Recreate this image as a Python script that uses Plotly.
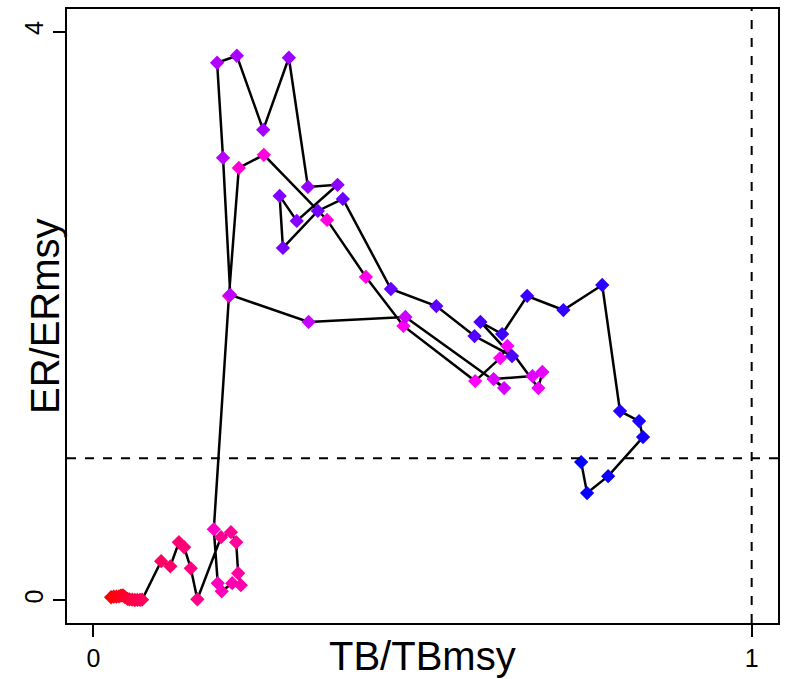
import plotly.graph_objects as go
import colorsys

# TB/TBmsy (x) and ER/ERmsy (y), in time order
tb = [0.027, 0.031, 0.035, 0.039, 0.042, 0.045, 0.048, 0.052, 0.055, 0.059,
      0.063, 0.067, 0.071, 0.074,
      0.103, 0.117, 0.130, 0.138, 0.148, 0.158,
      0.194, 0.209, 0.217, 0.220, 0.224, 0.211, 0.195, 0.189, 0.183,
      0.206, 0.221, 0.259, 0.355, 0.414, 0.471, 0.580, 0.618, 0.629,
      0.676, 0.682, 0.667, 0.608, 0.624, 0.474, 0.327, 0.208,
      0.197, 0.188, 0.218, 0.258, 0.297, 0.326, 0.371, 0.309, 0.283,
      0.288, 0.341, 0.379, 0.452, 0.521, 0.579, 0.636, 0.588, 0.621,
      0.659, 0.714, 0.773, 0.800, 0.829, 0.835, 0.782, 0.750, 0.741]
er = [0.021, 0.025, 0.026, 0.028, 0.033, 0.035, 0.022, 0.010, 0.006, 0.004,
      0.002, 0.003, 0.003, 0.004,
      0.275, 0.239, 0.408, 0.373, 0.225, 0.007,
      0.444, 0.479, 0.408, 0.190, 0.106, 0.120, 0.063, 0.120, 0.500,
      2.141, 3.042, 3.134, 2.676, 2.275, 1.930, 1.542, 1.704, 1.789,
      1.493, 1.606, 1.577, 1.556, 1.493, 1.993, 1.958, 2.148,
      3.113, 3.782, 3.831, 3.310, 3.817, 2.908, 2.923, 2.669, 2.845,
      2.479, 2.739, 2.824, 2.190, 2.070, 1.859, 1.718, 1.958, 1.873,
      2.141, 2.042, 2.218, 1.331, 1.261, 1.148, 0.873, 0.754, 0.972]

x_ticks = [0, 1]
y_ticks = [0, 4]
x_label = "TB/TBmsy"
y_label = "ER/ERmsy"

# colour ramp red -> magenta -> blue along the time series
n = len(tb)
colors = []
for i in range(n):
    h = (360 - 120 * i / (n - 1)) / 360.0
    r, g, b = colorsys.hsv_to_rgb(h % 1.0, 1, 1)
    colors.append(f"rgb({int(round(r*255))},{int(round(g*255))},{int(round(b*255))})")

FONT = "Liberation Sans, Arial, sans-serif"

fig = go.Figure()
fig.add_trace(go.Scatter(x=tb, y=er, mode="lines",
                         line=dict(color="black", width=2.5),
                         hoverinfo="skip", showlegend=False))
fig.add_trace(go.Scatter(x=tb, y=er, mode="markers",
                         marker=dict(symbol="diamond", size=11, color=colors,
                                     line=dict(width=0)),
                         showlegend=False))

fig.add_shape(type="line", xref="paper", yref="y", x0=0, x1=1, y0=1, y1=1,
              line=dict(color="black", width=2, dash="dash"))
fig.add_shape(type="line", xref="x", yref="paper", x0=1, x1=1, y0=0, y1=1,
              line=dict(color="black", width=2, dash="dash"))

axis_common = dict(showline=True, linecolor="black", linewidth=2, mirror=True,
                   ticks="outside", ticklen=12, tickwidth=2, tickcolor="black",
                   showgrid=False, zeroline=False, automargin=False)

fig.update_xaxes(range=[-0.04, 1.04], tickvals=x_ticks, ticktext=[str(v) for v in x_ticks],
                 **axis_common)
fig.update_yaxes(range=[-0.16, 4.16], tickvals=y_ticks, ticktext=[str(v) for v in y_ticks],
                 tickangle=-90, **axis_common)
fig.update_xaxes(tickfont_size=25, tickfont_family=FONT, tickfont_color="black")
fig.update_yaxes(tickfont_size=25, tickfont_family=FONT, tickfont_color="black")

fig.add_annotation(text=x_label, xref="paper", yref="paper", x=0.5, y=0,
                   xanchor="center", yanchor="middle", yshift=-33, showarrow=False,
                   font=dict(family=FONT, size=40, color="black"))
fig.add_annotation(text=y_label, xref="paper", yref="paper", x=0, y=0.5,
                   xanchor="center", yanchor="middle", xshift=-22, textangle=-90,
                   showarrow=False,
                   font=dict(family=FONT, size=40, color="black"))

fig.update_layout(width=791, height=679, margin=dict(l=67, r=13, t=9, b=56),
                  plot_bgcolor="white", paper_bgcolor="white",
                  font=dict(family=FONT, size=25, color="black"))

fig.write_html("out.html", config={"displayModeBar": False},
               post_script="document.body.style.margin='0';document.body.style.overflow='hidden';")
